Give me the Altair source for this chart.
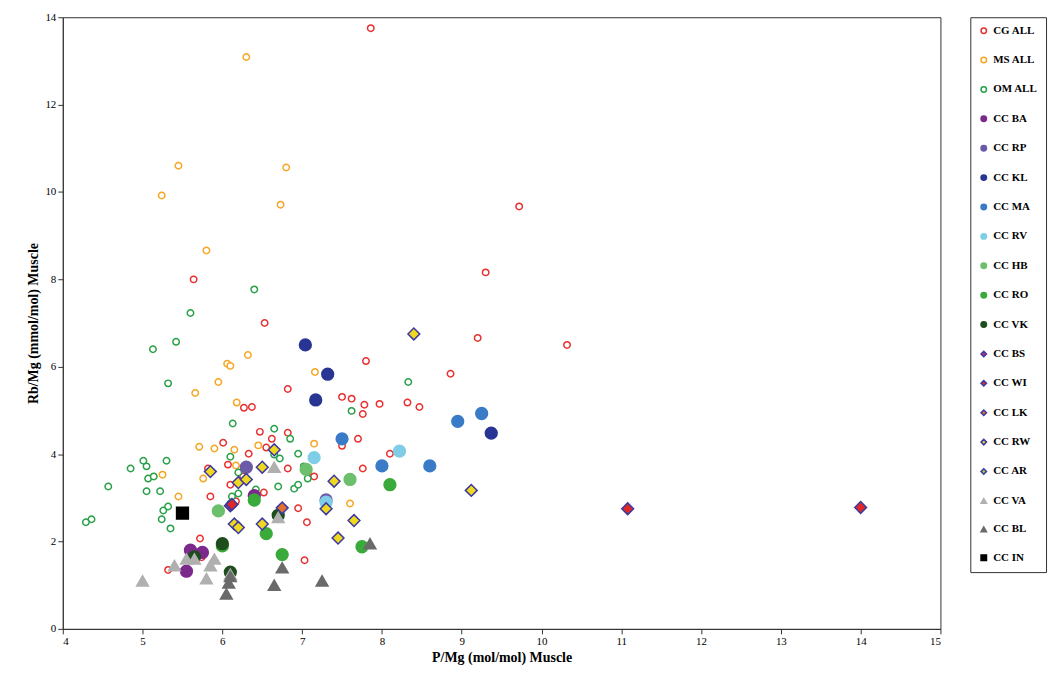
import altair as alt
import pandas as pd

series_names = ["CG ALL","MS ALL","OM ALL","CC BA","CC RP","CC KL","CC MA","CC RV","CC HB","CC RO",
                "CC VK","CC BS","CC WI","CC LK","CC RW","CC AR","CC VA","CC BL","CC IN"]
fills = ["white","white","white","#7b2a8c","#6a5aa8","#283593","#3a7bc8","#7fcde6","#6cbf6c","#3aaa3a",
         "#1e4d1e","#c0306a","#e02828","#e07030","#f0d820","#a8c83c","#b0b0b0","#6a6a6a","#000000"]
strokes = ["#e83030","#f5a623","#28a048","#7b2a8c","#6a5aa8","#283593","#3a7bc8","#7fcde6","#6cbf6c","#3aaa3a",
           "#1e4d1e","#3a3aa0","#3a3aa0","#3a3aa0","#3a3aa0","#3a3aa0","#b0b0b0","#6a6a6a","#000000"]
shapes = ["circle"]*11 + ["diamond"]*5 + ["triangle-up"]*2 + ["square"]

cg_x = [7.86,9.72,9.3,5.64,6.53,9.2,10.32,7.8,8.86,6.82,7.5,7.62,8.32,7.97,7.78,6.37,6.27,8.47,7.76,6.82,6.47,6.62,6.01,6.55,7.7,7.5,6.33,8.1,6.07,6.82,5.82,6.26,7.07,7.15,7.76,5.85,6.17,6.52,5.72,6.95,7.06,5.32,7.03,5.74,6.1,6.4]
cg_y = [13.75,9.67,8.16,8.0,7.0,6.66,6.5,6.13,5.84,5.49,5.31,5.27,5.18,5.15,5.13,5.08,5.06,5.08,4.92,4.49,4.51,4.35,4.26,4.15,4.35,4.19,4.01,4.01,3.76,3.67,3.67,3.49,3.58,3.49,3.67,3.03,2.92,3.12,2.07,2.76,2.44,1.35,1.57,1.64,3.3,2.9]
ms_x = [6.3,5.45,5.24,6.8,6.73,5.8,6.32,6.06,6.1,5.66,5.95,6.18,7.16,5.71,6.15,6.45,6.17,5.45,5.25,7.15,7.6,5.9,5.76]
ms_y = [13.09,10.6,9.92,10.56,9.71,8.66,6.27,6.07,6.02,5.4,5.65,5.18,5.88,4.17,4.1,4.2,3.74,3.03,3.53,4.24,2.87,4.13,3.44]
om_x = [6.4,5.6,5.13,5.42,5.32,8.33,6.13,6.65,6.85,6.95,6.72,7.02,6.65,7.07,6.9,7.62,6.1,6.2,4.85,5.01,5.05,5.07,5.05,4.57,5.3,5.22,5.26,5.24,5.35,4.36,4.29,5.14,5.32,6.2,6.12,6.1,6.42,6.95,6.7]
om_y = [7.77,7.23,6.4,6.57,5.62,5.65,4.7,4.58,4.35,4.01,3.9,3.72,3.99,3.44,3.21,4.99,3.94,3.58,3.67,3.85,3.72,3.44,3.15,3.26,3.85,3.15,2.71,2.51,2.3,2.51,2.44,3.49,2.8,3.1,3.03,2.87,3.19,3.3,3.26]
ba_x = [5.6,5.55,5.75,6.4]; ba_y = [1.8,1.32,1.75,3.05]
rp_x = [6.3,7.3]; rp_y = [3.7,2.95]
kl_x = [7.04,7.32,7.17,9.37]; kl_y = [6.5,5.83,5.24,4.48]
ma_x = [7.5,8.95,9.25,8.0,8.6]; ma_y = [4.35,4.75,4.93,3.73,3.73]
rv_x = [7.15,8.22,7.3]; rv_y = [3.92,4.07,2.9]
hb_x = [5.95,7.05,7.6]; hb_y = [2.7,3.65,3.42]
ro_x = [8.1,6.4,6.55,6.75,7.75,6.0]; ro_y = [3.3,2.95,2.18,1.7,1.88,1.9]
vk_x = [6.0,5.65,6.1,6.7]; vk_y = [1.95,1.65,1.3,2.6]
bs_x = [6.1]; bs_y = [2.82]
wi_x = [11.08,14.0,6.12]; wi_y = [2.75,2.78,2.85]
lk_x = [6.75]; lk_y = [2.77]
rw_x = [8.4,9.12,5.85,6.2,6.3,6.5,6.65,6.15,6.2,6.5,7.4,7.45,7.65,7.3]
rw_y = [6.75,3.17,3.6,3.35,3.42,3.7,4.1,2.4,2.32,2.4,3.38,2.08,2.48,2.75]
ar_x = []; ar_y = []
va_x = [5.0,5.4,5.55,5.65,5.8,5.85,5.9,6.1,6.65,6.7]; va_y = [1.1,1.45,1.6,1.6,1.15,1.45,1.6,1.25,3.7,2.55]
bl_x = [6.08,6.05,6.65,6.75,7.25,7.85,6.1]; bl_y = [1.05,0.8,1.0,1.4,1.1,1.95,1.2]
in_x = [5.5]; in_y = [2.65]

all_x = [cg_x,ms_x,om_x,ba_x,rp_x,kl_x,ma_x,rv_x,hb_x,ro_x,vk_x,bs_x,wi_x,lk_x,rw_x,ar_x,va_x,bl_x,in_x]
all_y = [cg_y,ms_y,om_y,ba_y,rp_y,kl_y,ma_y,rv_y,hb_y,ro_y,vk_y,bs_y,wi_y,lk_y,rw_y,ar_y,va_y,bl_y,in_y]
rows = []
for i, (n, xs, ys) in enumerate(zip(series_names, all_x, all_y)):
    for x, y in zip(xs, ys):
        rows.append({"series": n, "x": x, "y": y, "order": i, "size": 42 if i < 3 else 140})
rows.append({"series": "CC AR", "x": None, "y": None, "order": 15, "size": 100})
df = pd.DataFrame(rows)

font = "Liberation Serif"
leg = alt.Legend(title=None, orient="right", offset=30, labelFont=font, labelFontWeight="bold",
                 labelFontSize=11, labelColor="black", rowPadding=16.5, symbolSize=30,
                 strokeColor="#333", padding=8, symbolStrokeWidth=1.5)

chart = alt.Chart(df).mark_point(filled=False, opacity=1, strokeWidth=1.5).encode(
    x=alt.X("x:Q", title="P/Mg (mol/mol) Muscle", scale=alt.Scale(domain=[4, 15], nice=False),
            axis=alt.Axis(values=list(range(4, 16)), grid=False)),
    y=alt.Y("y:Q", title="Rb/Mg (mmol/mol) Muscle", scale=alt.Scale(domain=[0, 14], nice=False),
            axis=alt.Axis(values=list(range(0, 15, 2)), grid=False)),
    fill=alt.Fill("series:N", scale=alt.Scale(domain=series_names, range=fills), legend=leg),
    stroke=alt.Stroke("series:N", scale=alt.Scale(domain=series_names, range=strokes), legend=leg),
    shape=alt.Shape("series:N", scale=alt.Scale(domain=series_names, range=shapes), legend=leg),
    size=alt.Size("size:Q", scale=None),
    order="order:Q",
).properties(width=881, height=614, padding={"left": 19, "top": 2, "right": 5, "bottom": 5}).configure_axis(
    labelFont=font, titleFont=font, titleFontWeight="bold", titleFontSize=14, labelFontSize=11,
    labelColor="black", titleColor="black", domainColor="#333", tickColor="#333"
).configure_view(stroke="#333")

chart.save("out.html", embed_options={"renderer": "svg", "actions": False})
